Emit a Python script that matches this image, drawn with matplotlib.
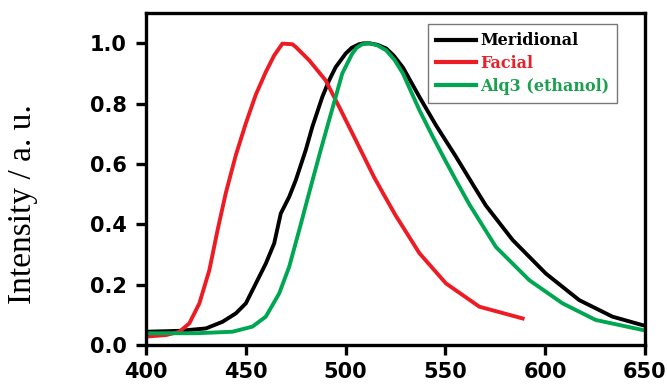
import numpy as np
import matplotlib
matplotlib.use('Agg')
import matplotlib.pyplot as plt

# emission spectra (wavelength nm, normalised intensity)
mer_x = [400, 416.7, 430, 438.3, 445, 450, 455, 460, 464.2, 467.5, 471.7, 475, 480,
         483.3, 488.3, 491.7, 495, 500, 503, 506.7, 509, 512, 516, 520.3, 524, 528.7,
         537, 545.3, 555.3, 564.5, 570.3, 583.7, 600.3, 617, 633.7, 648.7]
mer_y = [0.044, 0.047, 0.055, 0.077, 0.105, 0.138, 0.204, 0.27, 0.337, 0.436, 0.491, 0.546,
         0.646, 0.723, 0.822, 0.877, 0.921, 0.966, 0.985, 0.997, 1.0, 1.0, 0.995, 0.983,
         0.96, 0.92, 0.822, 0.728, 0.624, 0.524, 0.462, 0.348, 0.237, 0.149, 0.094, 0.066]

fac_x = [400, 410, 416.7, 421.7, 426.7, 431.7, 435.8, 440, 445, 450, 455, 460, 464.2,
         468.3, 473.3, 475, 481.7, 490, 496.7, 505, 514.2, 519, 525, 537, 550.3, 567, 588.7]
fac_y = [0.028, 0.033, 0.044, 0.072, 0.138, 0.248, 0.38, 0.505, 0.63, 0.735, 0.83, 0.905,
         0.96, 0.999, 0.997, 0.988, 0.944, 0.877, 0.79, 0.68, 0.557, 0.50, 0.43, 0.304,
         0.204, 0.127, 0.088]

alq_x = [400, 425, 443.3, 453.3, 460, 466.7, 471.7, 476.7, 482.5, 487.5, 491.7, 495,
         498.3, 503.3, 505.5, 508.3, 512, 516, 520.3, 524.5, 528.7, 537, 543.7, 550.3,
         556.2, 562, 575.3, 592, 608.7, 625.3, 648.7]
alq_y = [0.039, 0.039, 0.044, 0.061, 0.094, 0.171, 0.259, 0.38, 0.524, 0.646, 0.745, 0.822,
         0.90, 0.966, 0.985, 0.997, 1.0, 0.993, 0.977, 0.945, 0.90, 0.778, 0.69, 0.607,
         0.535, 0.466, 0.325, 0.215, 0.138, 0.083, 0.05]

labels = ['Meridional', 'Facial', 'Alq3 (ethanol)']
colors = ['#000000', '#ed1c24', '#00a651']
text_colors = ['#000000', '#e8202a', '#1aa04e']

fig = plt.figure(figsize=(6.67, 3.87), dpi=100)
ax = fig.add_axes([0.219, 0.1085, 0.748, 0.8575])

for xs, ys, c, lab in zip([mer_x, fac_x, alq_x], [mer_y, fac_y, alq_y], colors, labels):
    ax.plot(xs, ys, color=c, lw=2.8, label=lab, solid_joinstyle='round')

ax.set_xlim(400, 650)
ax.set_ylim(0, 1.1)
ax.set_xticks(np.arange(400, 651, 50))
ax.set_yticks(np.arange(0, 1.01, 0.2))
ax.set_yticklabels(['%.1f' % v for v in np.arange(0, 1.01, 0.2)])

for s in ax.spines.values():
    s.set_linewidth(2.4)
ax.tick_params(direction='out', length=7, width=2.4)
ax.tick_params(axis='x', pad=5)
ax.tick_params(axis='y', pad=7)
for t in ax.get_xticklabels() + ax.get_yticklabels():
    t.set_fontfamily('DejaVu Sans')
    t.set_fontweight('bold')
    t.set_fontsize(15)

ax.set_ylabel('Intensity / a. u.', family='Liberation Serif', fontsize=24)
ax.yaxis.set_label_coords(-0.2164, 0.425)

leg = ax.legend(loc='upper right', bbox_to_anchor=(0.944, 0.966), frameon=True,
                fancybox=False, edgecolor='#555555', handlelength=2.5,
                prop={'family': 'DejaVu Serif', 'weight': 'bold', 'size': 11.5},
                labelspacing=0.35, borderpad=0.5, handletextpad=0.25, borderaxespad=0)
leg.get_frame().set_linewidth(1.0)
for line in leg.get_lines():
    line.set_linewidth(3.0)
for txt, c in zip(leg.get_texts(), text_colors):
    txt.set_color(c)

fig.savefig('out.png', dpi=100)
